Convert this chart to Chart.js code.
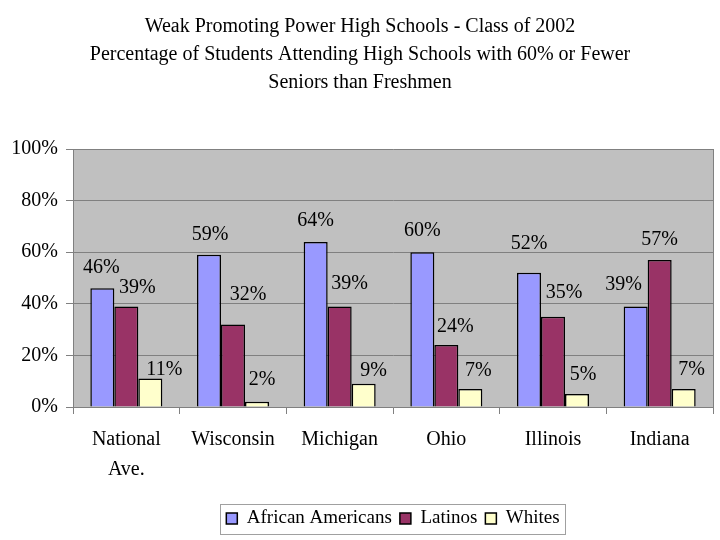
<!DOCTYPE html>
<html>
<head>
<meta charset="utf-8">
<script src="https://cdn.jsdelivr.net/npm/chart.js@4.4.1/dist/chart.umd.min.js"></script>
<style>
  html, body { margin: 0; padding: 0; background: #ffffff; }
  #wrap { width: 720px; height: 540px; }
</style>
</head>
<body>
<div id="wrap"><canvas id="c" width="720" height="540"></canvas></div>
<script>
// ---- data ----
const titleLines = [
  "Weak Promoting Power High Schools - Class of 2002",
  "Percentage of Students Attending High Schools with 60% or Fewer",
  "Seniors than Freshmen"
];
const categories = ["National Ave.", "Wisconsin", "Michigan", "Ohio", "Illinois", "Indiana"];
const seriesNames = ["African Americans", "Latinos", "Whites"];
const africanAmericans = [46, 59, 64, 60, 52, 39];
const latinos = [39, 32, 39, 24, 35, 57];
const whites = [11, 2, 9, 7, 5, 7];
const yTicks = [0, 20, 40, 60, 80, 100];

// ---- style ----
const SERIF = '"Liberation Serif", "Times New Roman", Times, serif';
const colors = ["#9999FF", "#993366", "#FFFFCC"];
// label nudges (style only): [dx, gap above bar top to baseline]
const labelNudge = [
  [[-1,15],[1,15],[0,16],[0,16],[0,24],[-12,16]],
  [[11,13],[15,24],[10,17],[9,13],[11,19],[0,15]],
  [[14,4],[5,17],[10,8],[8,13],[6,14],[8,14]]
];
const legendShift = 33;

const plotBg = {
  id: 'plotBg',
  afterLayout(chart) {
    const lg = chart.legend;
    if (lg) { lg.left += legendShift; lg.right += legendShift; }
  },
  beforeDraw(chart) {
    const {ctx, chartArea: a} = chart;
    ctx.save();
    ctx.fillStyle = '#C0C0C0';
    ctx.fillRect(a.left, a.top, a.right - a.left, a.bottom - a.top);
    ctx.restore();
  },
  afterDatasetsDraw(chart) {
    const {ctx, chartArea: a} = chart;
    ctx.save();
    ctx.strokeStyle = '#808080';
    ctx.lineWidth = 1;
    ctx.beginPath();
    ctx.moveTo(Math.round(a.right) + 0.5, a.top);
    ctx.lineTo(Math.round(a.right) + 0.5, a.bottom);
    ctx.stroke();
    ctx.restore();
  }
};

const valueLabels = {
  id: 'valueLabels',
  afterDatasetsDraw(chart) {
    const ctx = chart.ctx;
    ctx.save();
    ctx.font = '20px ' + SERIF;
    ctx.fillStyle = '#000';
    ctx.textAlign = 'center';
    ctx.textBaseline = 'alphabetic';
    chart.data.datasets.forEach((ds, di) => {
      const meta = chart.getDatasetMeta(di);
      meta.data.forEach((bar, i) => {
        const n = labelNudge[di][i];
        ctx.fillText(ds.data[i] + '%', bar.x + n[0], bar.y - n[1]);
      });
    });
    ctx.restore();
  }
};

const legendBox = {
  id: 'legendBox',
  afterDraw(chart) {
    const boxes = chart.legend && chart.legend.legendHitBoxes;
    if (!boxes || !boxes.length) return;
    let minX = Infinity, maxX = -Infinity, minY = Infinity, maxY = -Infinity;
    boxes.forEach(b => {
      minX = Math.min(minX, b.left); maxX = Math.max(maxX, b.left + b.width);
      minY = Math.min(minY, b.top); maxY = Math.max(maxY, b.top + b.height);
    });
    const ctx = chart.ctx;
    ctx.save();
    ctx.strokeStyle = '#A0A0A0';
    ctx.lineWidth = 1;
    const cy = (minY + maxY) / 2;
    ctx.strokeRect(Math.round(minX - 6) + 0.5, Math.round(cy - 15) + 0.5, Math.round(maxX - minX + 12), 30);
    ctx.restore();
  }
};

new Chart(document.getElementById('c'), {
  type: 'bar',
  data: {
    labels: categories,
    datasets: [
      { label: seriesNames[0], data: africanAmericans, backgroundColor: colors[0] },
      { label: seriesNames[1], data: latinos, backgroundColor: colors[1] },
      { label: seriesNames[2], data: whites, backgroundColor: colors[2] }
    ].map(d => Object.assign(d, {
      borderColor: '#000000', borderWidth: 1.5, borderSkipped: 'start',
      categoryPercentage: 0.675, barPercentage: 1.0
    }))
  },
  options: {
    responsive: false,
    animation: false,
    devicePixelRatio: 1,
    layout: { padding: { left: 7, right: 7, top: 0, bottom: 2 } },
    plugins: {
      title: {
        display: true,
        text: titleLines,
        color: '#000',
        font: { family: SERIF, size: 20, weight: 'normal', lineHeight: 1.4 },
        padding: { top: 13, bottom: 52 }
      },
      legend: {
        position: 'bottom',
        labels: {
          color: '#000',
          font: { family: SERIF, size: 19 },
          boxWidth: 11, boxHeight: 11, padding: 8
        }
      },
      tooltip: { enabled: false }
    },
    scales: {
      x: {
        offset: true,
        grid: { offset: true, drawOnChartArea: false, drawTicks: true, tickLength: 7, color: '#808080' },
        border: { display: true, color: '#808080' },
        ticks: {
          color: '#000',
          font: { family: SERIF, size: 20, lineHeight: 1.5 },
          padding: 11,
          maxRotation: 0,
          callback: function(v) {
            const s = this.getLabelForValue(v);
            return s === 'National Ave.' ? ['National', 'Ave.'] : s;
          }
        },
        afterFit(scale) { scale.height = 94; }
      },
      y: {
        min: 0, max: 100,
        afterBuildTicks(scale) { scale.ticks = yTicks.map(v => ({ value: v })); },
        grid: { color: '#808080', tickLength: 7 },
        border: { display: true, color: '#808080' },
        ticks: {
          color: '#000',
          font: { family: SERIF, size: 20 },
          padding: 8,
          callback: v => v + '%'
        },
        afterFit(scale) { scale.width = 66; }
      }
    }
  },
  plugins: [plotBg, valueLabels, legendBox]
});
</script>
</body>
</html>
